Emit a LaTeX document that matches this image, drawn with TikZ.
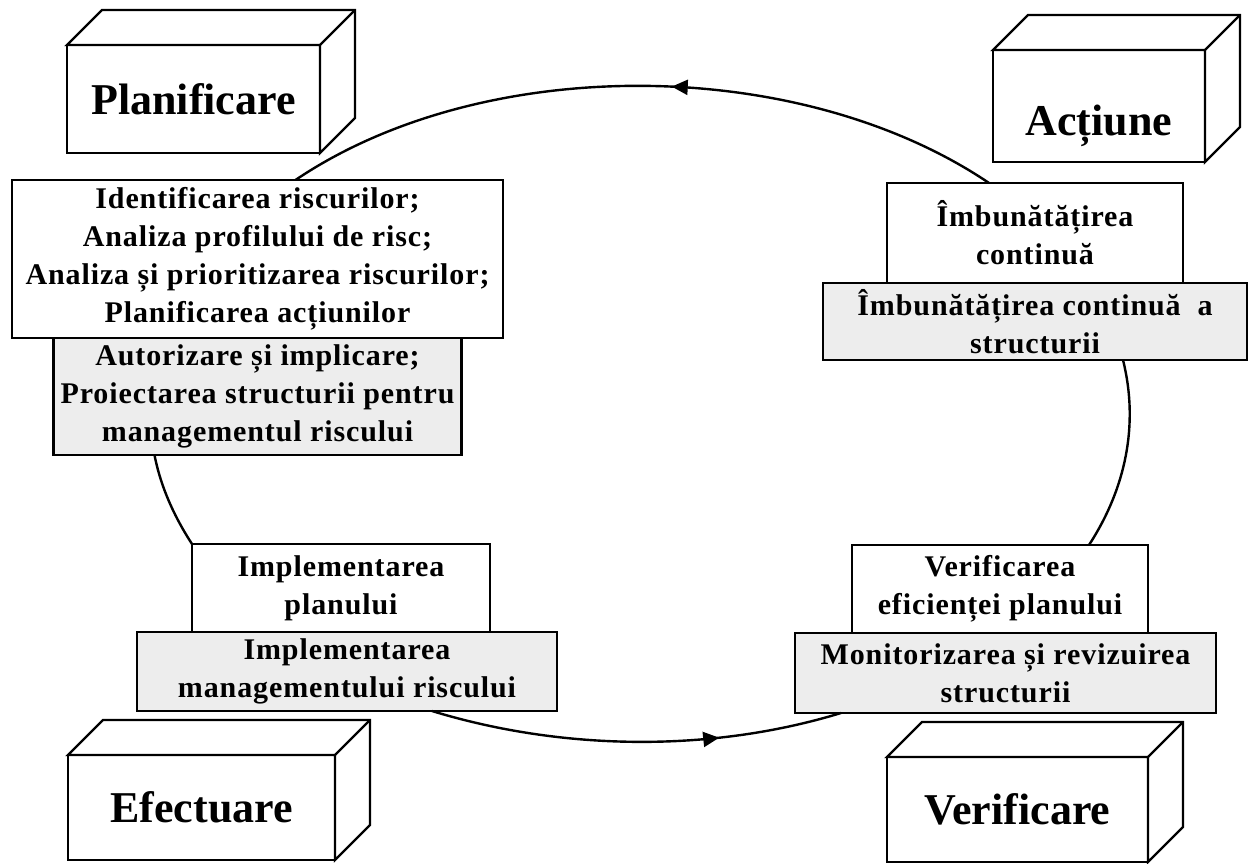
\documentclass[tikz,border=0pt]{standalone}
\usepackage{fontspec}
\setmainfont{Liberation Serif}
\usetikzlibrary{positioning,arrows.meta,decorations.markings}

\begin{document}
\begin{tikzpicture}[x=1pt, y=1pt, line width=2.4pt,
  upperbox/.style = {draw, fill=white, outer sep=0pt, inner sep=2pt, align=center, font=\bfseries\fontsize{30}{38}\selectfont\addfontfeatures{LetterSpace=3}},
  lowerbox/.style = {upperbox, fill=black!7},
  front/.style = {draw, fill=white, outer sep=0pt, font=\bfseries\fontsize{44}{50}\selectfont},
  arrowat/.style = {postaction={decorate, decoration={markings, mark=at position #1 with {\arrow{Triangle[length=16pt, width=15pt]}}}}}]
\useasboundingbox (0,0) rectangle (1249,863);

\node[front, minimum width=253, minimum height=108] (plan) at (193.5,764) {Planificare};
\node[front, minimum width=212, minimum height=112, text height=60pt, text depth=0pt] (act) at (1099,757) {Acțiune};
\node[front, minimum width=267, minimum height=105] (efect) at (201.5,55.5) {Efectuare};
\node[front, minimum width=261, minimum height=105] (verif) at (1017.5,53.5) {Verificare};
\foreach \n in {plan, act, efect, verif} {
  \draw[fill=white] (\n.north west) -- ++(35,35) -- ([shift={(35,35)}]\n.north east) -- ([shift={(35,35)}]\n.south east) -- (\n.south east) -- (\n.north east) -- cycle;
  \draw (\n.north east) -- ++(35,35);
}

\node[upperbox, minimum width=491, minimum height=158] (planW) at (257.5,604) {Identificarea riscurilor;\\ Analiza profilului de risc;\\ Analiza și prioritizarea riscurilor;\\ Planificarea acțiunilor};
\node[lowerbox, minimum width=408, minimum height=117] (planG) [below=0pt of planW] {Autorizare și implicare;\\ Proiectarea structurii pentru\\ managementul riscului};

\node[upperbox, minimum width=296, minimum height=100] (actW) at (1035,630) {Îmbunătățirea\\ continuă};
\node[lowerbox, minimum width=424, minimum height=77] (actG) [below=0pt of actW] {Îmbunătățirea continuă~ a\\ structurii};

\node[upperbox, minimum width=298, minimum height=88] (efW) at (341,275) {Implementarea\\ planului};
\node[lowerbox, minimum width=420, minimum height=79] (efG) [below=0pt of efW, xshift=6] {Implementarea\\ managementului riscului};

\node[upperbox, minimum width=296, minimum height=88] (veW) at (1000,274) {Verificarea\\ eficienței planului};
\node[lowerbox, minimum width=421, minimum height=80] (veG) [below=0pt of veW, xshift=5.5] {Monitorizarea și revizuirea\\ structurii};

\draw[arrowat=0.46] ([xshift=-46]actW.north) to [out=146, in=34, looseness=0.84] ([xshift=38]planW.north);
\draw ([xshift=-103]planG.south) to [out=-79, in=123, looseness=0.86] (efW.north west);
\draw[arrowat=0.7] ([xshift=85]efG.south) to [out=-17, in=197, looseness=0.85] ([xshift=-164.5]veG.south);
\draw ([xshift=89]veW.north) to [out=57, in=-76, looseness=0.91] ([xshift=88]actG.south);

\end{tikzpicture}
\end{document}
